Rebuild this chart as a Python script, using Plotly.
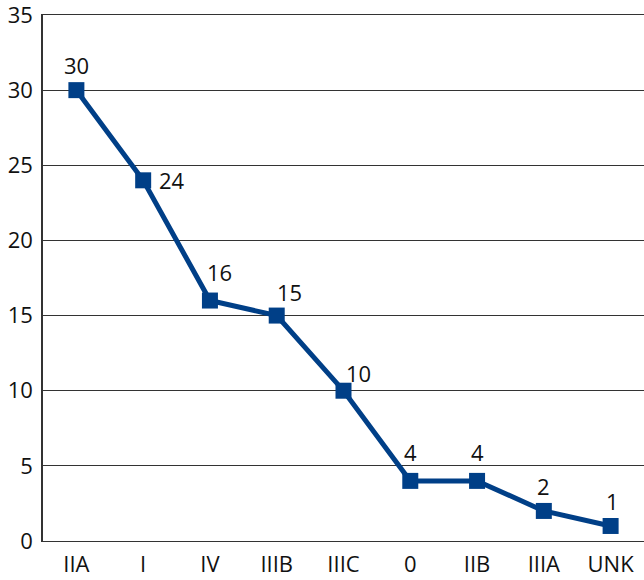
import plotly.graph_objects as go

categories = ["IIA", "I", "IV", "IIIB", "IIIC", "0", "IIB", "IIIA", "UNK"]
values = [30, 24, 16, 15, 10, 4, 4, 2, 1]
y_ticks = [0, 5, 10, 15, 20, 25, 30, 35]

# label offsets (pixels) relative to each point: (dx, dy up)
label_offsets = [(0, 25), (29, 0), (10, 29), (13, 24), (15, 18),
                 (0, 29), (0, 29), (0, 25), (2, 25)]

color = "#003f87"
font_family = "Open Sans, Noto Sans, sans-serif"
positions = list(range(len(categories)))

fig = go.Figure()
fig.add_trace(go.Scatter(
    x=positions,
    y=values,
    mode="lines+markers",
    line=dict(color=color, width=5),
    marker=dict(symbol="square", size=16, color=color),
    cliponaxis=False,
    showlegend=False,
))

for xi, v, (dx, dy) in zip(positions, values, label_offsets):
    fig.add_annotation(
        x=xi, y=v, xref="x", yref="y", text=str(v), showarrow=False,
        xshift=dx, yshift=dy,
        font=dict(family=font_family, size=22, color="#111"),
    )

fig.update_layout(
    width=644, height=580,
    margin=dict(l=43, r=0, t=15, b=39),
    paper_bgcolor="white",
    plot_bgcolor="white",
    font=dict(family=font_family, size=22, color="#111"),
)
fig.update_xaxes(
    range=[-0.5, 8.5],
    tickmode="array",
    tickvals=positions,
    ticktext=categories,
    showgrid=False,
    zeroline=False,
    showline=True,
    mirror=True,
    linecolor="#333",
    linewidth=1,
    ticks="",
    tickfont=dict(size=22),
    ticklabelstandoff=4,
    ticklabeloverflow="allow",
    automargin=False,
)
fig.update_yaxes(
    range=[0, 35],
    tickmode="array",
    tickvals=y_ticks,
    showgrid=True,
    gridcolor="#333",
    gridwidth=1,
    zeroline=False,
    showline=True,
    linecolor="#333",
    linewidth=1.5,
    ticks="",
    tickfont=dict(size=22),
    ticklabelstandoff=4,
    ticklabeloverflow="allow",
    automargin=False,
)

fig.write_html(
    "out.html",
    config={"displayModeBar": False},
    post_script="document.body.style.margin='0';document.body.style.padding='0';",
)
